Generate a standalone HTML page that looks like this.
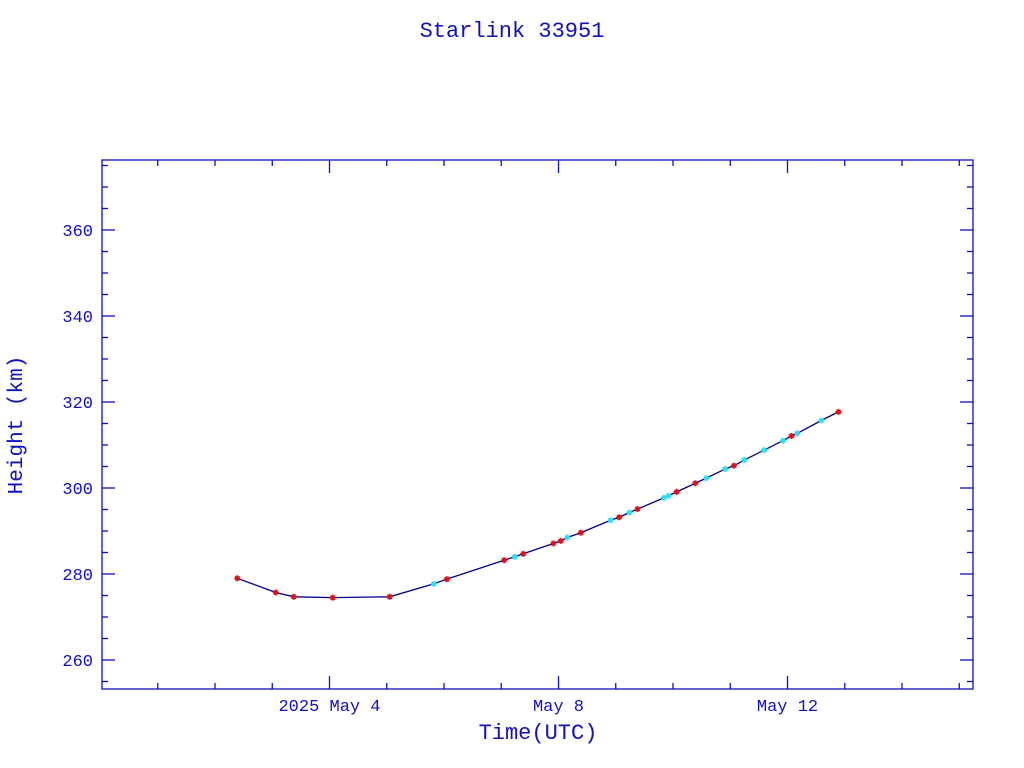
<!DOCTYPE html>
<html><head><meta charset="utf-8"><style>
html,body{margin:0;padding:0;background:#fff;}
svg{display:block;}
text{font-family:"Liberation Mono",monospace;fill:#1010c0;}
</style></head><body>
<svg id="chart" width="1024" height="768" xmlns="http://www.w3.org/2000/svg">
<text x="512" y="37" font-size="22" text-anchor="middle">Starlink 33951</text>
<text x="538" y="739" font-size="22" text-anchor="middle">Time(UTC)</text>
<text transform="translate(22,425) rotate(-90)" font-size="21" text-anchor="middle">Height (km)</text>
<g id="axes"></g><g id="marks"></g>
</svg>
<script>
// data: day of May 2025 (fractional), height km, marker type (r=red, c=cyan)
const days = [2.39,3.06,3.375,4.056,5.05,5.82,6.05,7.05,7.235,7.385,7.91,8.04,8.155,8.39,8.91,9.06,9.24,9.38,9.84,9.92,10.065,10.39,10.58,10.91,11.065,11.245,11.59,11.92,12.07,12.17,12.59,12.89];
const heights = [279.0,275.7,274.7,274.5,274.7,277.7,278.8,283.2,284.0,284.7,287.1,287.7,288.5,289.6,292.5,293.2,294.3,295.1,297.7,298.2,299.1,301.1,302.3,304.4,305.2,306.5,308.8,311.0,312.1,312.7,315.7,317.7];
const kinds = ['r','r','r','r','r','c','r','r','c','r','r','r','c','r','c','r','c','r','c','c','r','r','c','c','r','c','c','c','r','c','c','r'];
const xTickDays = [4,8,12];
const xTickLabels = ['2025 May  4','May  8','May 12'];
const yTickValues = [260,280,300,320,340,360];

const L=102,R=973,T=160,B=689;
const x = d => 329.5 + (d-4)*57.25;
const y = h => 230 + (360-h)*4.3;
const NS='http://www.w3.org/2000/svg';
const C='#1010c0';
const axes=document.getElementById('axes'), marks=document.getElementById('marks');
function mk(tag,attrs,parent){const e=document.createElementNS(NS,tag);for(const k in attrs)e.setAttribute(k,attrs[k]);parent.appendChild(e);return e;}

const frame=mk('rect',{x:L,y:T,width:R-L,height:B-T,fill:'none',stroke:C,'stroke-width':1.3},axes);



for(let d=1;d<=15;d++){
  const xx=x(d); if(xx<L||xx>R) continue;
  const len = (d%4===0)?13:6;
  const t1=mk('line',{x1:xx,x2:xx,y1:B,y2:B-len,stroke:C,'stroke-width':1.3},axes);
  
  
  const t2=mk('line',{x1:xx,x2:xx,y1:T,y2:T+len,stroke:C,'stroke-width':1.3},axes);
  
  
}
xTickDays.forEach((d,i)=>{
  const t=mk('text',{x:x(d),y:711,'font-size':17,'text-anchor':'middle','xml:space':'preserve'},axes);
  t.textContent=xTickLabels[i];
  
  
});
for(let h=255;h<=375;h+=5){
  const yy=y(h); if(yy<T||yy>B) continue;
  const len=(h%20===0)?13:6;
  const a=mk('line',{x1:L,x2:L+len,y1:yy,y2:yy,stroke:C,'stroke-width':1.3},axes);
  
  
  const b=mk('line',{x1:R,x2:R-len,y1:yy,y2:yy,stroke:C,'stroke-width':1.3},axes);
  
  
}
yTickValues.forEach(v=>{
  const t=mk('text',{x:93,y:y(v)+6,'font-size':17,'text-anchor':'end'},axes);
  t.textContent=String(v);
  
  
});

const line=mk('polyline',{points:days.map((d,i)=>x(d)+','+y(heights[i])).join(' '),fill:'none',stroke:'#00008b','stroke-width':1.3},marks);



days.forEach((d,i)=>{
  const col = kinds[i]==='r' ? '#e0101a' : '#30e0f0';
  const g=mk('g',{stroke:col,'stroke-width':1.6},marks);
  
  
  const cx=x(d), cy=y(heights[i]), s=3;
  mk('line',{x1:cx-s,x2:cx+s,y1:cy,y2:cy},g);
  mk('line',{x1:cx,x2:cx,y1:cy-s,y2:cy+s},g);
  mk('line',{x1:cx-s*0.7,x2:cx+s*0.7,y1:cy-s*0.7,y2:cy+s*0.7},g);
  mk('line',{x1:cx-s*0.7,x2:cx+s*0.7,y1:cy+s*0.7,y2:cy-s*0.7},g);
});
</script>
</body></html>
